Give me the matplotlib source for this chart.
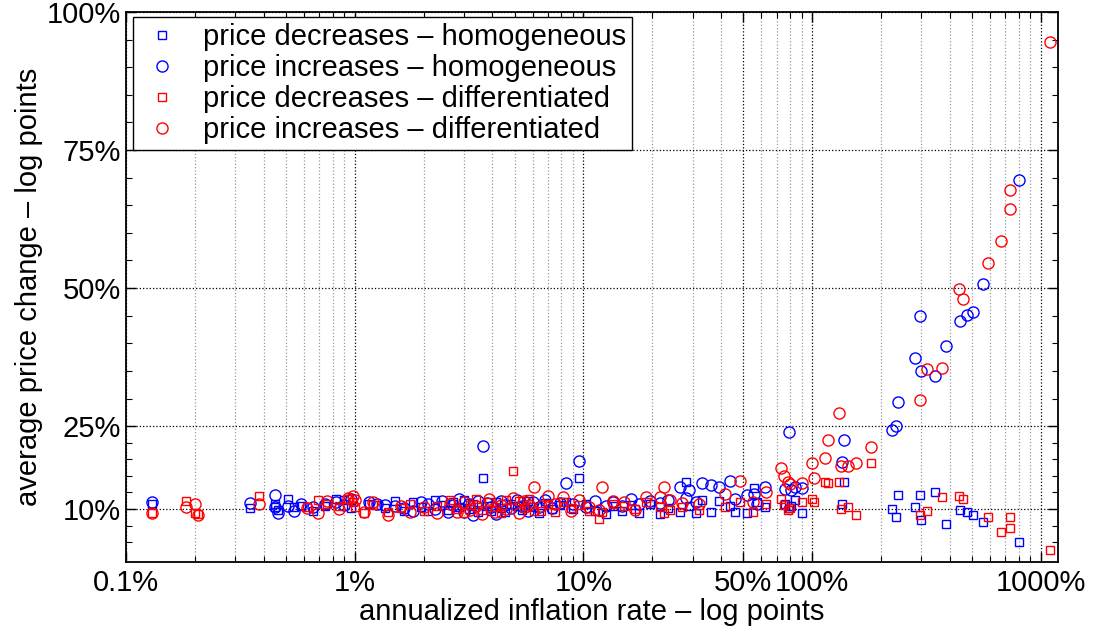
import numpy as np
import matplotlib.pyplot as plt
from matplotlib.ticker import FixedLocator, LogLocator, NullFormatter

plt.rcParams['font.family'] = ['Liberation Sans', 'DejaVu Sans']

####### homogeneous goods (x = annualized inflation %, y = avg price change %)
hom_x = [0.13, 0.35, 0.45, 0.45, 0.46, 0.51, 0.54, 0.58, 0.66, 0.74, 0.83, 0.9, 0.96,
         1.15, 1.25, 1.35, 1.5, 1.65, 1.8, 1.95, 2.1, 2.25, 2.4, 2.55, 2.7, 2.85, 3.0,
         3.15, 3.3, 3.45, 3.62, 3.8, 3.95, 4.15, 4.35, 4.55, 4.8, 5.1, 5.4, 5.7, 6.0,
         6.4, 6.8, 7.3, 7.9, 8.4, 9.0, 9.55, 10.3, 11.2, 12.5, 13.5, 14.8, 16.2, 17.5,
         19.5, 21.5, 23.5, 26.4, 28.0, 29.0, 31.0, 33.0, 36.0, 39.3, 43.8, 46.0, 52.0,
         55.7, 57.5, 62.0, 76.0, 79.4, 80.5, 84.0, 90.0, 135, 138, 223, 233, 237, 282,
         295, 300, 344, 386, 443, 475, 503, 557, 800]
hom_dec = [10.9, 10.1, 10.9, 10.3, 9.9, 11.8, 10.3, 10.6, 9.6, 10.5, 11.9, 11.6, 10.2,
           11.0, 10.7, 10.1, 11.5, 9.7, 11.2, 10.4, 9.6, 11.6, 10.8, 9.9, 11.3, 10.3, 11.7,
           10.0, 10.9, 9.5, 15.7, 10.6, 9.7, 11.2, 10.2, 9.4, 11.0, 10.5, 9.8, 11.4, 10.4,
           9.3, 11.1, 10.0, 10.8, 11.3, 10.0, 15.6, 10.9, 9.6, 9.1, 10.6, 9.7, 10.8, 9.3,
           11.0, 9.1, 10.2, 9.5, 14.9, 10.5, 9.2, 11.6, 9.5, 11.4, 10.6, 9.4, 9.2,
           13.8, 11.2, 10.4, 11.0, 10.1, 10.5, 11.6, 9.2, 10.9, 14.9, 10.0, 8.5, 12.5, 10.3,
           12.5, 8.0, 13.0, 7.3, 9.8, 9.5, 9.0, 7.6, 4.0]
hom_inc = [11.2, 11.1, 12.5, 10.4, 9.2, 10.6, 9.6, 11.0, 10.4, 10.9, 11.3, 10.8, 11.8,
           11.3, 11.0, 10.8, 10.6, 10.2, 9.6, 11.3, 10.9, 10.0, 11.4, 9.5, 10.7, 11.8, 9.4,
           10.9, 9.0, 11.5, 21.4, 11.1, 10.4, 9.1, 11.5, 10.8, 10.1, 11.6, 10.6, 9.6, 11.2,
           10.3, 11.7, 10.1, 11.1, 14.7, 11.0, 18.7, 10.3, 11.5, 10.6, 11.3, 10.5, 11.8, 10.9,
           11.4, 11.1, 11.6, 14.0, 12.0, 13.4, 11.3, 14.7, 14.3, 13.9, 15.1, 11.8, 12.5,
           12.7, 11.0, 14.0, 13.6, 24.0, 13.4, 14.0, 13.8, 18.6, 22.5, 24.3, 25.0, 29.3, 37.3,
           45.0, 35.0, 34.1, 39.6, 44.1, 45.1, 45.7, 50.7, 69.5]

####### differentiated goods
dif_x = [0.13, 0.183, 0.2, 0.206, 0.38, 0.62, 0.69, 0.76, 0.85, 0.93, 0.98, 1.0, 1.1,
         1.2, 1.4, 1.6, 1.75, 2.0, 2.3, 2.6, 2.8, 3.0, 3.2, 3.4, 3.6, 3.85, 4.1, 4.35,
         4.6, 4.9, 5.2, 5.5, 5.8, 6.1, 6.5, 7.0, 7.5, 8.1, 8.8, 9.6, 10.6, 11.7, 12.1,
         13.5, 15.0, 16.8, 18.8, 21.5, 22.6, 23.8, 27.0, 32.0, 41.5, 48.4, 55.0, 62.7,
         73.0, 75.0, 78.0, 80.0, 90.0, 99.5, 102, 114, 117, 131, 133, 144, 155, 180,
         295, 318, 370, 438, 457, 585, 666, 730, 735, 1100]
dif_dec = [9.3, 11.4, 9.3, 9.1, 12.4, 10.4, 11.6, 10.9, 10.6, 11.9, 11.2, 10.3, 9.2,
           10.7, 9.5, 10.2, 11.0, 9.6, 10.6, 11.6, 10.0, 9.3, 10.8, 11.9, 9.8, 11.3, 10.4, 9.2,
           11.7, 16.8, 11.5, 10.1, 11.9, 9.6, 9.7, 10.9, 9.4, 11.2, 10.2, 10.7, 9.6, 8.2, 9.5,
           11.0, 10.5, 10.0, 11.3, 10.4, 9.2, 9.8, 10.4, 9.8, 10.4, 11.3, 9.4, 11.0,
           11.8, 10.7, 9.8, 10.1, 11.3, 11.9, 11.2, 14.9, 14.8, 14.9, 10.0, 10.4, 8.9, 18.4,
           9.0, 9.6, 12.1, 12.4, 11.8, 8.5, 5.8, 8.5, 6.6, 2.5]
dif_inc = [9.2, 10.4, 11.0, 9.0, 11.0, 10.2, 9.2, 11.4, 10.0, 12.0, 12.3, 11.7, 9.5,
           11.3, 9.0, 10.6, 9.4, 10.3, 9.2, 10.9, 9.4, 11.2, 9.8, 10.5, 9.1, 11.8, 9.5, 10.8,
           10.0, 12.0, 9.3, 11.4, 10.7, 14.0, 10.5, 12.3, 11.0, 12.1, 9.6, 11.6, 10.4, 9.9, 14.0,
           11.5, 11.2, 9.8, 12.1, 12.1, 13.9, 11.6, 11.1, 11.0, 12.8, 15.1, 11.2, 13.0,
           17.4, 16.0, 14.9, 14.5, 14.8, 18.3, 15.6, 19.3, 22.5, 27.3, 17.8, 17.8, 18.4, 21.3,
           29.7, 35.4, 35.6, 49.9, 48.0, 54.5, 58.6, 67.7, 64.4, 94.5]

x_ticks = [0.1, 1, 10, 50, 100, 1000]
x_labels = ['0.1%', '1%', '10%', '50%', '100%', '1000%']
y_ticks = [10, 25, 50, 75, 100]
y_labels = ['10%', '25%', '50%', '75%', '100%']
y_minor = [4, 7, 13, 16, 19, 22, 30, 35, 40, 45, 55, 60, 65, 70, 80, 85, 90, 95]

fig = plt.figure(figsize=(10.96, 6.28), dpi=100)
ax = fig.add_axes([0.115, 0.105, 0.8505, 0.876])

ax.plot(hom_x, hom_dec, 's', mfc='none', mec='blue', ms=6, mew=1.0, label='price decreases – homogeneous')
ax.plot(hom_x, hom_inc, 'o', mfc='none', mec='blue', ms=8, mew=1.0, label='price increases – homogeneous')
ax.plot(dif_x, dif_dec, 's', mfc='none', mec='red', ms=6, mew=1.0, label='price decreases – differentiated')
ax.plot(dif_x, dif_inc, 'o', mfc='none', mec='red', ms=8, mew=1.0, label='price increases – differentiated')

ax.set_xscale('log')
ax.set_xlim(0.1, 1190)
ax.set_ylim(0.4, 100)
ax.set_xticks(x_ticks)
ax.set_xticklabels(x_labels)
ax.xaxis.set_minor_locator(LogLocator(base=10, subs=np.arange(2, 10)))
ax.xaxis.set_minor_formatter(NullFormatter())
ax.set_yticks(y_ticks)
ax.set_yticklabels(y_labels)
ax.yaxis.set_minor_locator(FixedLocator(y_minor))

ax.tick_params(which='both', direction='in', top=True, right=True, labelsize=21)
ax.tick_params(which='major', length=7, width=1)
ax.tick_params(which='minor', length=4, width=0.8)
ax.tick_params(axis='x', pad=5)

ax.grid(which='major', linestyle=':', color='black', linewidth=0.9)
ax.grid(which='minor', axis='x', linestyle=':', color='0.6', linewidth=0.9)
ax.set_axisbelow(True)
for s in ax.spines.values():
    s.set_linewidth(1.3)

ax.set_xlabel('annualized inflation rate – log points', fontsize=21, labelpad=1)
ax.set_ylabel('average price change – log points', fontsize=21, labelpad=3)

leg = ax.legend(loc='upper left', bbox_to_anchor=(0.0075, 0.99), fontsize=21, frameon=True,
                fancybox=False, framealpha=1, edgecolor='black', borderpad=0.2,
                labelspacing=0.1, handlelength=1.6, handletextpad=0.6, borderaxespad=0)
leg.get_frame().set_linewidth(1.0)

fig.savefig('out.png', dpi=100)
